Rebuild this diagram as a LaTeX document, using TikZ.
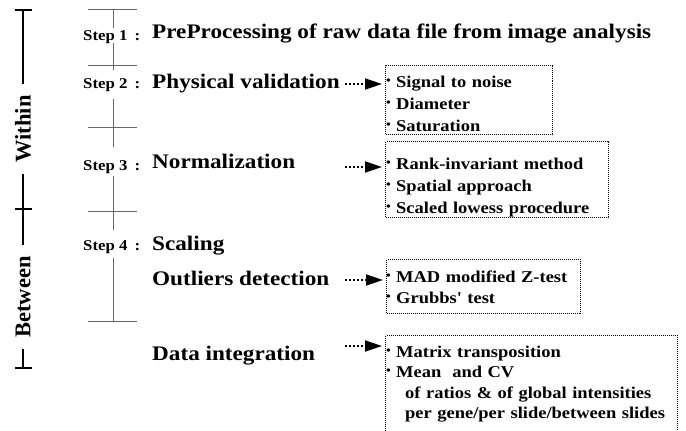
\documentclass[tikz,border=0pt]{standalone}
\usepackage{fontspec}
\usetikzlibrary{arrows.meta}
\newfontfamily\mainb{Liberation Serif Bold}[FakeStretch=1.12]
\newfontfamily\vertb{Liberation Serif Bold}
\newcommand\bul{\makebox[10pt][l]{\raisebox{2.6pt}{\fontsize{12}{12}\selectfont •}}}
\begin{document}
\begin{tikzpicture}[x=1pt,y=-1pt,
  steplbl/.style={anchor=base west, inner sep=0pt, font=\mainb\fontsize{15}{17}\selectfont},
  maintxt/.style={anchor=base west, inner sep=0pt, font=\mainb\fontsize{20.7}{25}\selectfont},
  vlabel/.style={rotate=90, fill=white, inner xsep=11pt, inner ysep=2pt, font=\vertb\fontsize{22.5}{26}\selectfont},
  items/.style={anchor=base west, inner sep=0pt, text width=290pt, align=left, font=\mainb\fontsize{16.5}{22}\selectfont},
  dotbox/.style={draw, line width=1pt, dash pattern=on 1pt off 1pt, inner sep=0pt, anchor=north west},
  thinline/.style={draw=black!60, line width=1pt},
  brack/.style={line width=2pt},
  dotarrow/.style={line width=1.8pt, dash pattern=on 2pt off 2pt, shorten >=3pt, -{Triangle[length=17pt,width=11pt]}}]
\useasboundingbox (0,0) rectangle (686,431);
\clip (0,0) rectangle (686,431);
% left bracket
\coordinate (L0) at (23,10);
\coordinate (L1) at (23,209);
\coordinate (L2) at (23,368);
\draw[brack] (L0) -- (L2);
\foreach \c in {L0,L1,L2} \draw[brack] ([xshift=-8pt]\c) -- ([xshift=9pt]\c);
\node[vlabel] (within) at (23,129) {Within};
\node[vlabel] (between) at (23,297) {Between};
% timeline
\foreach \y in {9,65,127,211,321} \draw[thinline] (88,\y) -- (137,\y);
\draw[thinline] (113,9) -- (113,28);
\draw[thinline] (113,43) -- (113,70);
\draw[thinline] (113,99) -- (113,147);
\draw[thinline] (113,176) -- (113,230);
\draw[thinline] (113,258) -- (113,321);
% step labels
\node[steplbl] (s1) at (83,40) {Step 1\hspace{7pt}:};
\node[steplbl] (s2) at (83,88) {Step 2\hspace{7pt}:};
\node[steplbl] (s3) at (83,170) {Step 3\hspace{7pt}:};
\node[steplbl] (s4) at (83,250) {Step 4\hspace{7pt}:};
% main texts
\node[maintxt] (pre) at (152,38) {PreProcessing of raw data file from image analysis};
\node[maintxt] (phys) at (152,88) {Physical validation};
\node[maintxt] (norm) at (152,168) {Normalization};
\node[maintxt] (scal) at (152,250) {Scaling};
\node[maintxt] (outl) at (152,285) {Outliers detection};
\node[maintxt] (integ) at (152,360) {Data integration};
% boxes
\node[dotbox, minimum width=167pt, minimum height=69pt] (b1) at (385,65) {};
\node[dotbox, minimum width=223pt, minimum height=76pt] (b2) at (385,141) {};
\node[dotbox, minimum width=194pt, minimum height=54pt] (b3) at (386,259) {};
\node[dotbox, minimum width=292pt, minimum height=120pt] (b4) at (385,335) {};
% items
\node[items] (i1) at (386,87) {\bul Signal to noise\\ \bul Diameter\\ \bul Saturation};
\node[items] (i2) at (386,169) {\bul Rank-invariant method\\ \bul Spatial approach\\ \bul Scaled lowess procedure};
\node[items, font=\mainb\fontsize{16.5}{21}\selectfont] (i3) at (386,282) {\bul MAD modified Z-test\\ \bul Grubbs' test};
\node[items, font=\mainb\fontsize{16.5}{20.5}\selectfont] (i4) at (386,357) {\bul Matrix transposition\\ \bul Mean~ and CV\\ \hspace*{19pt}of ratios \& of global intensities\\ \hspace*{19pt}per gene/per slide/between slides};
% arrows
\coordinate (a1) at (345,84);
\coordinate (a2) at (345,167);
\coordinate (a3) at (345,280);
\coordinate (a4) at (345,346);
\draw[dotarrow] (a1) -- (a1 -| b1.west);
\draw[dotarrow] (a2) -- (a2 -| b2.west);
\draw[dotarrow] (a3) -- (a3 -| b3.west);
\draw[dotarrow] (a4) -- (a4 -| b4.west);
\end{tikzpicture}
\end{document}
